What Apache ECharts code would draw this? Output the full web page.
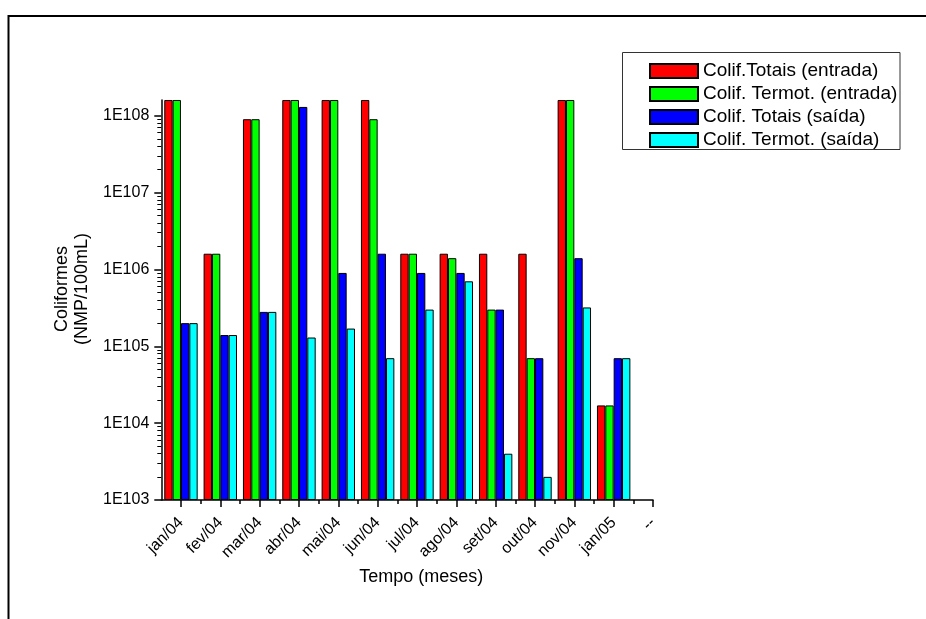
<!DOCTYPE html>
<html><head><meta charset="utf-8">
<script src="https://cdn.jsdelivr.net/npm/echarts@6/dist/echarts.min.js"></script>
<style>html,body{margin:0;padding:0;background:#fff}#c{width:926px;height:619px}</style>
</head><body><div id="c"></div><script>
const categories = ['jan/04','fev/04','mar/04','abr/04','mai/04','jun/04','jul/04','ago/04','set/04','out/04','nov/04','jan/05','--'];
const seriesNames = ['Colif.Totais (entrada)','Colif. Termot. (entrada)','Colif. Totais (saída)','Colif. Termot. (saída)'];
const seriesColors = ['#ff0000','#00ff00','#0000ff','#00ffff'];
const totaisEntrada = [1.6e8,1.6e6,9e7,1.6e8,1.6e8,1.6e8,1.6e6,1.6e6,1.6e6,1.6e6,1.6e8,1.7e4,null];
const termotEntrada = [1.6e8,1.6e6,9e7,1.6e8,1.6e8,9e7,1.6e6,1.4e6,3e5,7e4,1.6e8,1.7e4,null];
const totaisSaida   = [2e5,1.4e5,2.8e5,1.3e8,9e5,1.6e6,9e5,9e5,3e5,7e4,1.4e6,7e4,null];
const termotSaida   = [2e5,1.4e5,2.8e5,1.3e5,1.7e5,7e4,3e5,7e5,4e3,2e3,3.2e5,7e4,null];
const yTicks = [1e3,1e4,1e5,1e6,1e7,1e8];
const yMax = 1.6e8;

const FONT = '"Liberation Sans", Arial, sans-serif';
const allSeries = [totaisEntrada, termotEntrada, totaisSaida, termotSaida];
const xMajor = categories.map((c,i)=>i+1);
const xMinor = categories.slice(0,-1).map((c,i)=>i+1.5);
const yMinor = [];
yTicks.slice(0,-1).forEach(t=>{for(let k=2;k<=9;k++) yMinor.push(t*k);});

const chart = echarts.init(document.getElementById('c'), null, {renderer:'canvas'});
chart.setOption({
  animation:false,
  backgroundColor:'#fff',
  textStyle:{fontFamily:FONT, color:'#000'},
  grid:{left:161.3, top:100, right:273, bottom:119, containLabel:false, outerBoundsMode:'none'},
  graphic:[
    {type:'rect', shape:{x:8.5,y:16,width:1000,height:1000}, style:{fill:'none',stroke:'#000',lineWidth:2}, silent:true, z:100},
    {type:'rect', shape:{x:622.5,y:52.5,width:277.5,height:97}, style:{fill:'#fff',stroke:'#333',lineWidth:1}, silent:true, z:0}
  ],
  legend:{
    orient:'vertical', left:649, top:61.5, padding:0, itemGap:4,
    itemWidth:48, itemHeight:14, icon:'rect',
    textStyle:{fontSize:19, lineHeight:19, color:'#000', fontFamily:FONT},
    data:seriesNames, z:5
  },
  xAxis:[{
    type:'value', min:0.5, max:13,
    name:'Tempo (meses)', nameLocation:'middle', nameGap:66,
    nameTextStyle:{fontSize:18, color:'#000', fontFamily:FONT, padding:[0,0,0,28]},
    axisLine:{show:true, onZero:false, lineStyle:{color:'#000', width:1.5}},
    axisTick:{show:true, inside:false, length:7, customValues:xMajor, lineStyle:{color:'#000', width:1.5}},
    axisLabel:{show:true, customValues:xMajor, rotate:45, margin:20, fontSize:16, color:'#000', fontFamily:FONT,
      formatter:v=>categories[Math.round(v)-1]||''},
    splitLine:{show:false}
  },{
    type:'value', min:0.5, max:13, gridIndex:0, position:'bottom',
    axisLine:{show:false},
    axisTick:{show:true, length:4, customValues:xMinor, lineStyle:{color:'#000', width:1.5}},
    axisLabel:{show:false}, splitLine:{show:false}
  }],
  yAxis:[{
    type:'log', logBase:10, min:1e3, max:yMax, startValue:1e3,
    name:'Coliformes\n(NMP/100mL)', nameLocation:'middle', nameRotate:90, nameGap:69,
    nameTextStyle:{fontSize:18, lineHeight:20, color:'#000', fontFamily:FONT, align:'center', padding:[0,0,0,22]},
    axisLine:{show:true, onZero:false, lineStyle:{color:'#000', width:1.5}},
    axisTick:{show:true, length:7, customValues:yTicks, lineStyle:{color:'#000', width:1.5}},
    axisLabel:{show:true, customValues:yTicks, margin:12, fontSize:16, color:'#000', fontFamily:FONT,
      formatter:v=>'1E10'+Math.round(Math.log10(v))},
    splitLine:{show:false}, minorTick:{show:false}
  },{
    type:'log', logBase:10, min:1e3, max:yMax, position:'left',
    axisLine:{show:false},
    axisTick:{show:true, length:4, customValues:yMinor, lineStyle:{color:'#000', width:1}},
    axisLabel:{show:false}, splitLine:{show:false}
  }],
  series: allSeries.map((arr,si)=>({
    name:seriesNames[si], type:'bar', xAxisIndex:0, yAxisIndex:0,
    barWidth:8.35, barGap:'0%',
    itemStyle:{color:seriesColors[si], borderColor:'#000', borderWidth:1},
    data: arr.map((v,i)=>[i+1,v]).filter(p=>p[1]!=null)
  }))
});
</script></body></html>
